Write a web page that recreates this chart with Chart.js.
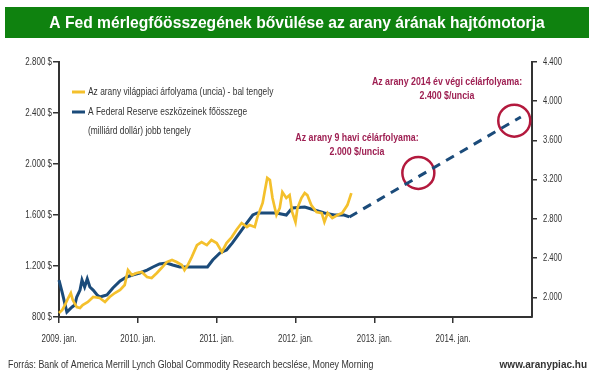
<!DOCTYPE html>
<html>
<head>
<meta charset="utf-8">
<script src="https://cdn.jsdelivr.net/npm/chart.js@4.4.1/dist/chart.umd.min.js"></script>
<style>
  body { margin: 0; background: #fff; }
  #chart { display: block; }
</style>
</head>
<body>
<canvas id="chart" width="600" height="380"></canvas>
<script>
// months counted from 2009. jan.
const goldMonths = [0, 0.5, 0.9, 1.4, 1.8, 2.1, 2.7, 3.2, 3.6, 4.4, 5.2, 6.2, 7.0, 7.7, 8.5, 9.3, 10.0, 10.5, 11.1, 11.8,
  12.6, 13.4, 14.1, 14.9, 15.6, 16.4, 17.2, 17.9, 18.7, 19.1, 19.6, 20.2, 21.0, 21.7, 22.5, 23.2, 24.0, 24.8, 25.5,
  26.3, 27.0, 27.8, 28.6, 29.0, 29.8, 30.2, 31.0, 31.3, 31.7, 32.1, 32.5, 33.1, 33.6, 34.0, 34.6, 35.1, 35.5, 36.0,
  36.3, 36.9, 37.4, 37.8, 38.4, 39.2, 40.0, 40.4, 40.9, 41.6, 42.4, 43.1, 43.9, 44.5];
const goldPrices = [831, 855, 894, 949, 988, 933, 878, 871, 894, 918, 957, 949, 918, 957, 988, 1012, 1051, 1168, 1129, 1145,
  1153, 1114, 1106, 1145, 1184, 1231, 1247, 1231, 1208, 1168, 1208, 1270, 1364, 1388, 1364, 1404, 1380, 1310, 1380,
  1427, 1482, 1537, 1506, 1521, 1506, 1584, 1694, 1780, 1890, 1874, 1733, 1600, 1655, 1780, 1733, 1756, 1623, 1545,
  1655, 1733, 1772, 1756, 1678, 1623, 1615, 1545, 1615, 1576, 1600, 1615, 1678, 1772];

const fedMonths = [0, 0.5, 1.2, 2.0, 2.4, 2.7, 3.2, 3.5, 3.9, 4.3, 4.7, 5.2, 5.8, 6.2, 7.3, 8.2, 9.3, 10.3, 11.2, 12.3,
  13.4, 14.3, 15.3, 16.4, 17.3, 18.4, 20.4, 22.6, 23.4, 24.5, 25.5, 26.4, 27.5, 28.6, 29.5, 30.2, 33.1, 34.6, 35.5,
  37.4, 38.9, 40.4, 41.9, 43.4, 44.2];
const fedAssets = [2177, 2045, 1851, 1902, 1922, 2004, 2075, 2177, 2106, 2188, 2106, 2075, 2024, 2004, 2024, 2096, 2167, 2208, 2228, 2249,
  2279, 2310, 2341, 2351, 2330, 2310, 2310, 2310, 2381, 2453, 2483, 2555, 2657, 2759, 2840, 2861, 2861, 2840, 2912,
  2922, 2891, 2861, 2840, 2840, 2820];

const projMonths = [44.2, 70.3];
const projAssets = [2820, 3840];

const targetMonths = [54.7, 69.3];
const targetPrices = [1930, 2340];

const xTicks = [0, 12, 24, 36, 48, 60];
const xLabels = ['2009. jan.', '2010. jan.', '2011. jan.', '2012. jan.', '2013. jan.', '2014. jan.'];
const leftTicks = [800, 1200, 1600, 2000, 2400, 2800];
const rightTicks = [2000, 2400, 2800, 3200, 3600, 4000, 4400];

const title = 'A Fed mérlegfőösszegének bővülése az arany árának hajtómotorja';
const legendGold = 'Az arany világpiaci árfolyama (uncia) - bal tengely';
const legendFed = ['A Federal Reserve eszközeinek főösszege', '(milliárd dollár) jobb tengely'];
const note1 = ['Az arany 9 havi célárfolyama:', '2.000 $/uncia'];
const note2 = ['Az arany 2014 év végi célárfolyama:', '2.400 $/uncia'];
const source = 'Forrás: Bank of America Merrill Lynch Global Commodity Research becslése, Money Morning';
const site = 'www.aranypiac.hu';

const GOLD = '#f4c02c';
const NAVY = '#1b4b7a';
const RED = '#b3193d';
const NOTE = '#9e1f52';
const AXIS = '#333333';
const SANS = '"Liberation Sans", Arial, sans-serif';

const zip = (xs, ys) => xs.map((x, i) => ({ x: x, y: ys[i] }));
const huNum = v => String(v).replace(/\B(?=(\d{3})+(?!\d))/g, '.');
const setTicks = arr => scale => { scale.ticks = arr.map(v => ({ value: v })); };

// the original uses a condensed face, so squeeze the text horizontally
function narrow(c, text, x, y, align, font, sx) {
  c.save();
  c.translate(x, y);
  c.scale(sx, 1);
  c.font = font;
  c.textAlign = align;
  c.textBaseline = 'middle';
  c.fillText(text, 0, 0);
  c.restore();
}

const extras = {
  id: 'extras',
  afterDraw(chart) {
    const c = chart.ctx;
    const { x, y, y2 } = chart.scales;
    c.save();
    // title bar
    c.fillStyle = '#0f820f';
    c.fillRect(5, 7, 584, 31);
    c.fillStyle = '#fff';
    narrow(c, title, 297, 23, 'center', 'bold 17px ' + SANS, 0.92);

    // tick labels, placed by the chart's own scales
    c.fillStyle = AXIS;
    const tf = '10px ' + SANS;
    xTicks.forEach((v, i) => narrow(c, xLabels[i], x.getPixelForValue(v), 339, 'center', tf, 0.8));
    leftTicks.forEach(v => narrow(c, huNum(v) + ' $', 52, y.getPixelForValue(v), 'right', tf, 0.8));
    rightTicks.forEach(v => narrow(c, huNum(v), 543, y2.getPixelForValue(v), 'left', tf, 0.76));

    // legend
    c.lineWidth = 3;
    c.strokeStyle = GOLD;
    c.beginPath(); c.moveTo(72, 92); c.lineTo(85, 92); c.stroke();
    c.strokeStyle = NAVY;
    c.beginPath(); c.moveTo(72, 112); c.lineTo(85, 112); c.stroke();
    c.fillStyle = AXIS;
    const lf = '10.5px ' + SANS;
    narrow(c, legendGold, 88, 92, 'left', lf, 0.8);
    narrow(c, legendFed[0], 88, 112, 'left', lf, 0.8);
    narrow(c, legendFed[1], 88, 131, 'left', lf, 0.8);

    // target notes
    c.fillStyle = NOTE;
    const nf = 'bold 11px ' + SANS;
    narrow(c, note1[0], 357, 138, 'center', nf, 0.8);
    narrow(c, note1[1], 357, 152, 'center', nf, 0.8);
    narrow(c, note2[0], 447, 82, 'center', nf, 0.8);
    narrow(c, note2[1], 447, 96, 'center', nf, 0.8);

    // footer
    c.fillStyle = AXIS;
    narrow(c, source, 8, 365, 'left', '10.5px ' + SANS, 0.84);
    narrow(c, site, 587, 365, 'right', 'bold 10px ' + SANS, 1);
    c.restore();
  }
};

const hiddenTicks = { display: false };

new Chart(document.getElementById('chart'), {
  type: 'line',
  data: {
    datasets: [
      {
        label: 'gold',
        data: zip(goldMonths, goldPrices),
        yAxisID: 'y',
        borderColor: GOLD,
        borderWidth: 2.7,
        pointRadius: 0
      },
      {
        label: 'fed',
        data: zip(fedMonths, fedAssets),
        yAxisID: 'y2',
        borderColor: NAVY,
        borderWidth: 3,
        pointRadius: 0
      },
      {
        label: 'projection',
        data: zip(projMonths, projAssets),
        yAxisID: 'y2',
        borderColor: NAVY,
        borderWidth: 3,
        borderDash: [9, 7],
        pointRadius: 0
      },
      {
        label: 'targets',
        data: zip(targetMonths, targetPrices),
        yAxisID: 'y',
        showLine: false,
        pointRadius: 16,
        pointBorderWidth: 2.5,
        pointBorderColor: RED,
        pointBackgroundColor: 'rgba(0,0,0,0)'
      }
    ]
  },
  options: {
    responsive: false,
    animation: false,
    clip: false,
    layout: { padding: { top: 62, left: 0, right: 0, bottom: 0 } },
    plugins: { legend: { display: false }, tooltip: { enabled: false } },
    scales: {
      x: {
        type: 'linear',
        min: 0,
        max: 72,
        afterBuildTicks: setTicks(xTicks),
        afterFit: s => { s.height = 63; },
        border: { display: true, color: AXIS, width: 2 },
        grid: { drawOnChartArea: false, color: AXIS, lineWidth: 1.5, tickLength: 6 },
        ticks: hiddenTicks
      },
      y: {
        position: 'left',
        min: 800,
        max: 2800,
        afterBuildTicks: setTicks(leftTicks),
        afterFit: s => { s.width = 59; },
        border: { display: true, color: AXIS, width: 2 },
        grid: { drawOnChartArea: false, color: AXIS, lineWidth: 1.5, tickLength: 6 },
        ticks: hiddenTicks
      },
      y2: {
        position: 'right',
        min: 1800,
        max: 4400,
        afterBuildTicks: setTicks(rightTicks),
        afterFit: s => { s.width = 68; },
        border: { display: true, color: AXIS, width: 2 },
        grid: { drawOnChartArea: false, color: AXIS, lineWidth: 1.5, tickLength: 5 },
        ticks: hiddenTicks
      }
    }
  },
  plugins: [extras]
});
</script>
</body>
</html>
